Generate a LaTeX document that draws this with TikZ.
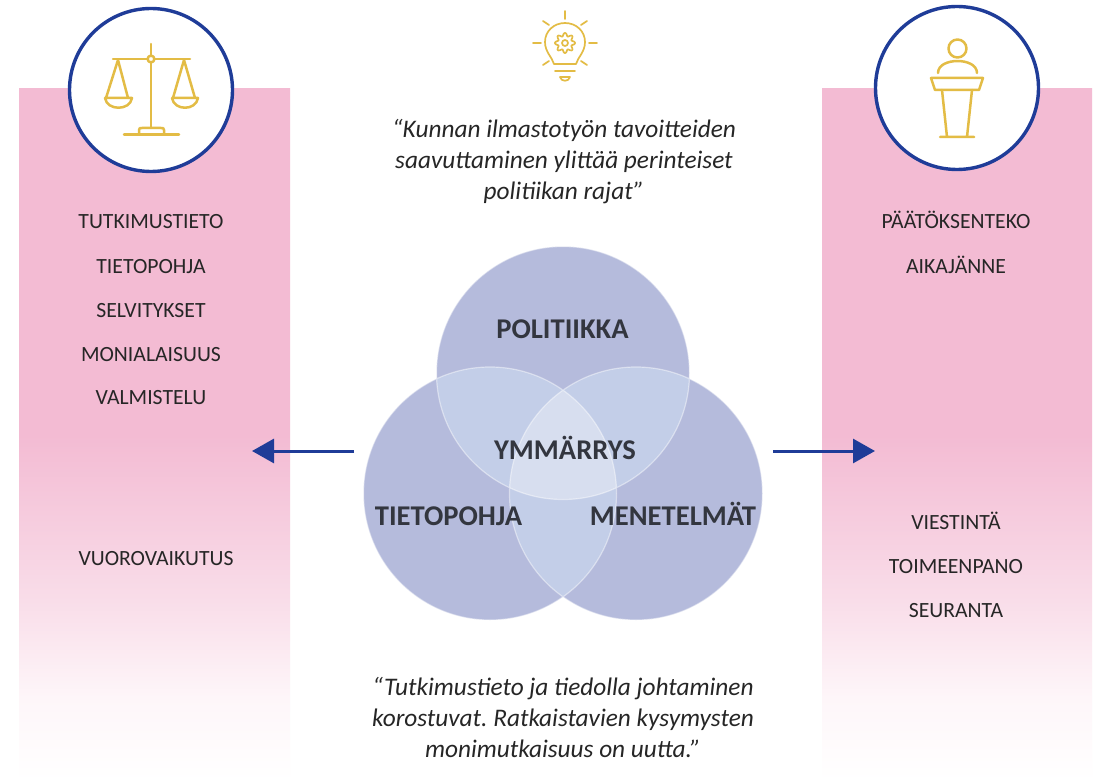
\documentclass[tikz,border=0pt]{standalone}
\usepackage{fontspec}
\setmainfont{Carlito}
\usetikzlibrary{arrows.meta}
\frenchspacing
\definecolor{pinkb}{HTML}{F3BBD3}
\definecolor{navy}{HTML}{1F3C98}
\definecolor{gold}{HTML}{E3BC45}
\definecolor{vennA}{HTML}{B5BBDC}
\definecolor{vennB}{HTML}{C3CEE8}
\definecolor{vennC}{HTML}{D7DEEF}
\definecolor{ink}{HTML}{33363F}
\definecolor{pk1}{HTML}{FEF6F9}
\definecolor{pk2}{HTML}{F9DDE9}
\pgfdeclareverticalshading{pinkfade}{100bp}{color(0bp)=(white);color(25bp)=(white);color(31bp)=(pk1);color(38bp)=(pk2);color(50bp)=(pinkb);color(100bp)=(pinkb)}
\tikzset{
 x=1pt,y=-1pt,
 panel/.style={shading=pinkfade,shading angle=0,draw=none},
 badge/.style={circle,draw=navy,line width=3.4pt,fill=white,minimum size=163pt,inner sep=0pt},
 vennc/.style={circle,minimum size=253pt,inner sep=0pt},
 icon/.style={draw=gold,line width=2.5pt,line cap=round,line join=round},
 thinicon/.style={draw=gold,line width=1.7pt,line cap=round,line join=round},
 lab/.style={font=\fontsize{21.7}{24}\selectfont,text=black!85,anchor=center,inner sep=0pt,text height=14pt,text depth=0pt},
 vlab/.style={font=\fontsize{28.6}{32}\selectfont\bfseries,text=ink,anchor=center,inner sep=0pt,text height=18pt,text depth=0pt},
 quote/.style={font=\fontsize{25.3}{31}\selectfont\itshape,text=black!85,align=center,anchor=center,inner sep=0pt},
 arr/.style={draw=navy,line width=3pt,-{Triangle[length=22pt,width=24pt]}}
}
\begin{document}
\begin{tikzpicture}
\useasboundingbox (0,0) rectangle (1096,781);
\fill[white] (0,0) rectangle (1096,781);
\shade[panel] (19,88.5) rectangle (290,781);
\shade[panel] (822,88.5) rectangle (1092,781);
\node[badge] (scalesbadge) at (151,90) {};
\node[badge] (speakerbadge) at (957,88) {};
% scales icon
\draw[icon] (151,44)--(151,128) (113,59)--(190,59);
\draw[icon,fill=white] (151,59) circle (3.4);
\draw[icon] (118,60)--(106,98) (118,60)--(128,98) (184,60)--(173,98) (184,60)--(195,98);
\draw[icon] (105,98)--(132,98) .. controls (130,111) and (107,111) .. (105,98);
\draw[icon] (172,98)--(198,98) .. controls (196,111) and (174,111) .. (172,98);
\draw[icon] (124,134.5)--(179,134.5);
\draw[icon] (139,134)--(139,130) .. controls (139,128) and (140,128) .. (142,128)--(161,128) .. controls (163,128) and (164,128) .. (164,130)--(164,134);
% speaker icon
\draw[icon] (957.5,48.5) circle (9);
\draw[icon] (938,73) .. controls (938,57) and (977,57) .. (977,73);
\draw[icon] (931,78)--(983,78)--(979,90)--(935,90)--cycle;
\draw[icon] (942,90)--(947,137) (972,90)--(967,137) (940,137)--(974,137);
% bulb icon
\begin{scope}[shift={(565,43)}]
\draw[thinicon] (-11,21) .. controls (-13,14) and (-20,9) .. (-20,-1) .. controls (-20,-12) and (-11,-20) .. (0,-20) .. controls (11,-20) and (20,-12) .. (20,-1) .. controls (20,9) and (13,14) .. (11,21) -- cycle;
\draw[thinicon] (-10,28)--(10,28);
\draw[thinicon] (-5,34)--(5,34) .. controls (4,39) and (-4,39) .. (-5,34);
\draw[thinicon] (0,0) circle (3);
\draw[thinicon,domain=0:360,samples=97,smooth] plot ({(8.5+1.6*cos(8*\x))*cos(\x)},{(8.5+1.6*cos(8*\x))*sin(\x)}) -- cycle;
\draw[thinicon] (0,-32)--(0,-24) (-22,-22)--(-16,-18) (22,-22)--(16,-18) (-32,0)--(-24,0) (32,0)--(24,0) (-22,22)--(-16,18) (22,22)--(16,18);
\end{scope}
% venn
\node[vennc,fill=vennA] (vtop) at (563,373) {};
\node[vennc,fill=vennA] (vleft) at (490,493.5) {};
\node[vennc,fill=vennA] (vright) at (636,493.5) {};
\begin{scope}
 \clip (563,373) circle (126.5);
 \fill[vennB] (490,493.5) circle (126.5);
 \fill[vennB] (636,493.5) circle (126.5);
\end{scope}
\begin{scope}
 \clip (490,493.5) circle (126.5);
 \fill[vennB] (636,493.5) circle (126.5);
 \clip (636,493.5) circle (126.5);
 \fill[vennC] (563,373) circle (126.5);
\end{scope}
\draw[white,opacity=.45,line width=1.2pt] (563,373) circle (126.5) (490,493.5) circle (126.5) (636,493.5) circle (126.5);
\node[vlab] (tpol) at (562.5,329) {POLITIIKKA};
\node[vlab] (tymm) at (565,450) {YMMÄRRYS};
\node[vlab] (ttie) at (448.5,516) {TIETOPOHJA};
\node[vlab] (tmen) at (673,516) {MENETELMÄT};
% arrows
\coordinate (la) at (354,451); \coordinate (lb) at (252,451);
\coordinate (ra) at (773,451); \coordinate (rb) at (875,451);
\draw[arr] (la)--(lb);
\draw[arr] (ra)--(rb);
% panel labels
\node[lab] (l1) at (151,222) {TUTKIMUSTIETO};
\node[lab] (l2) at (151,266) {TIETOPOHJA};
\node[lab] (l3) at (151,310) {SELVITYKSET};
\node[lab] (l4) at (151,354) {MONIALAISUUS};
\node[lab] (l5) at (151,397) {VALMISTELU};
\node[lab] (l6) at (156,558) {VUOROVAIKUTUS};
\node[lab] (r1) at (956,222) {PÄÄTÖKSENTEKO};
\node[lab] (r2) at (956,266) {AIKAJÄNNE};
\node[lab] (r3) at (956,522) {VIESTINTÄ};
\node[lab] (r4) at (956,566) {TOIMEENPANO};
\node[lab] (r5) at (956,610) {SEURANTA};
% quotes
\node[quote] (q1) at (564,162) {“Kunnan ilmastotyön tavoitteiden\\saavuttaminen ylittää perinteiset\\politiikan rajat”};
\node[quote] (q2) at (563,717) {“Tutkimustieto ja tiedolla johtaminen\\korostuvat. Ratkaistavien kysymysten\\monimutkaisuus on uutta.”};
\end{tikzpicture}
\end{document}
